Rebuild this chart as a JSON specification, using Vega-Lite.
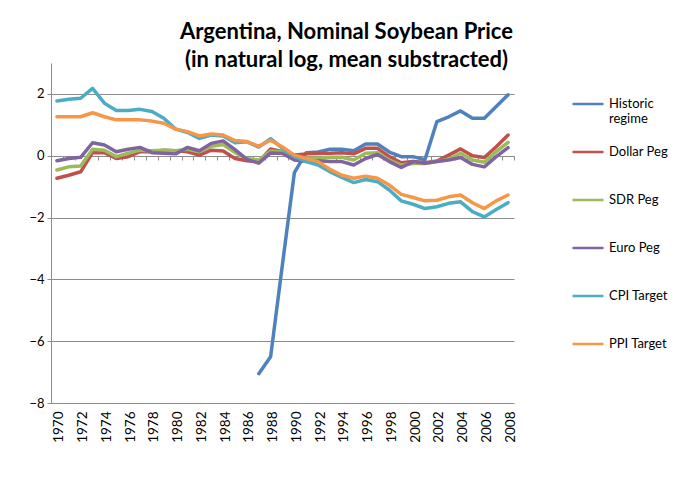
{
  "$schema": "https://vega.github.io/schema/vega-lite/v6.json",
  "width": 463,
  "height": 340,
  "autosize": "none",
  "padding": {"left": 51, "top": 63, "right": 170, "bottom": 86},
  "background": "white",
  "config": {"view": {"stroke": null}},
  "title": {
    "text": ["Argentina, Nominal Soybean Price", "(in natural log, mean substracted)"],
    "font": "Lato", "fontSize": 22, "fontWeight": "bold", "lineHeight": 28,
    "color": "black", "anchor": "middle", "dx": 64, "offset": -9
  },
  "data": {"values": [
    {"year":1987,"series":"Historic regime","value":-7.05},
    {"year":1988,"series":"Historic regime","value":-6.5},
    {"year":1989,"series":"Historic regime","value":-3.5},
    {"year":1990,"series":"Historic regime","value":-0.55},
    {"year":1991,"series":"Historic regime","value":0.1},
    {"year":1992,"series":"Historic regime","value":0.12},
    {"year":1993,"series":"Historic regime","value":0.21},
    {"year":1994,"series":"Historic regime","value":0.21},
    {"year":1995,"series":"Historic regime","value":0.16},
    {"year":1996,"series":"Historic regime","value":0.38},
    {"year":1997,"series":"Historic regime","value":0.38},
    {"year":1998,"series":"Historic regime","value":0.12},
    {"year":1999,"series":"Historic regime","value":-0.03},
    {"year":2000,"series":"Historic regime","value":-0.03},
    {"year":2001,"series":"Historic regime","value":-0.13},
    {"year":2002,"series":"Historic regime","value":1.1},
    {"year":2003,"series":"Historic regime","value":1.26},
    {"year":2004,"series":"Historic regime","value":1.45},
    {"year":2005,"series":"Historic regime","value":1.21},
    {"year":2006,"series":"Historic regime","value":1.21},
    {"year":2007,"series":"Historic regime","value":1.59},
    {"year":2008,"series":"Historic regime","value":1.97},

    {"year":1970,"series":"Dollar Peg","value":-0.73},
    {"year":1971,"series":"Dollar Peg","value":-0.63},
    {"year":1972,"series":"Dollar Peg","value":-0.52},
    {"year":1973,"series":"Dollar Peg","value":0.1},
    {"year":1974,"series":"Dollar Peg","value":0.1},
    {"year":1975,"series":"Dollar Peg","value":-0.09},
    {"year":1976,"series":"Dollar Peg","value":-0.03},
    {"year":1977,"series":"Dollar Peg","value":0.13},
    {"year":1978,"series":"Dollar Peg","value":0.13},
    {"year":1979,"series":"Dollar Peg","value":0.18},
    {"year":1980,"series":"Dollar Peg","value":0.16},
    {"year":1981,"series":"Dollar Peg","value":0.13},
    {"year":1982,"series":"Dollar Peg","value":0.02},
    {"year":1983,"series":"Dollar Peg","value":0.18},
    {"year":1984,"series":"Dollar Peg","value":0.15},
    {"year":1985,"series":"Dollar Peg","value":-0.09},
    {"year":1986,"series":"Dollar Peg","value":-0.16},
    {"year":1987,"series":"Dollar Peg","value":-0.19},
    {"year":1988,"series":"Dollar Peg","value":0.22},
    {"year":1989,"series":"Dollar Peg","value":0.13},
    {"year":1990,"series":"Dollar Peg","value":0.02},
    {"year":1991,"series":"Dollar Peg","value":0.06},
    {"year":1992,"series":"Dollar Peg","value":0.07},
    {"year":1993,"series":"Dollar Peg","value":0.08},
    {"year":1994,"series":"Dollar Peg","value":0.1},
    {"year":1995,"series":"Dollar Peg","value":0.06},
    {"year":1996,"series":"Dollar Peg","value":0.24},
    {"year":1997,"series":"Dollar Peg","value":0.24},
    {"year":1998,"series":"Dollar Peg","value":-0.03},
    {"year":1999,"series":"Dollar Peg","value":-0.23},
    {"year":2000,"series":"Dollar Peg","value":-0.19},
    {"year":2001,"series":"Dollar Peg","value":-0.23},
    {"year":2002,"series":"Dollar Peg","value":-0.17},
    {"year":2003,"series":"Dollar Peg","value":0.02},
    {"year":2004,"series":"Dollar Peg","value":0.22},
    {"year":2005,"series":"Dollar Peg","value":0.0},
    {"year":2006,"series":"Dollar Peg","value":-0.06},
    {"year":2007,"series":"Dollar Peg","value":0.29},
    {"year":2008,"series":"Dollar Peg","value":0.67},

    {"year":1970,"series":"SDR Peg","value":-0.46},
    {"year":1971,"series":"SDR Peg","value":-0.36},
    {"year":1972,"series":"SDR Peg","value":-0.33},
    {"year":1973,"series":"SDR Peg","value":0.21},
    {"year":1974,"series":"SDR Peg","value":0.18},
    {"year":1975,"series":"SDR Peg","value":-0.03},
    {"year":1976,"series":"SDR Peg","value":0.08},
    {"year":1977,"series":"SDR Peg","value":0.18},
    {"year":1978,"series":"SDR Peg","value":0.16},
    {"year":1979,"series":"SDR Peg","value":0.18},
    {"year":1980,"series":"SDR Peg","value":0.16},
    {"year":1981,"series":"SDR Peg","value":0.21},
    {"year":1982,"series":"SDR Peg","value":0.13},
    {"year":1983,"series":"SDR Peg","value":0.31},
    {"year":1984,"series":"SDR Peg","value":0.36},
    {"year":1985,"series":"SDR Peg","value":0.1},
    {"year":1986,"series":"SDR Peg","value":-0.09},
    {"year":1987,"series":"SDR Peg","value":-0.14},
    {"year":1988,"series":"SDR Peg","value":0.15},
    {"year":1989,"series":"SDR Peg","value":0.12},
    {"year":1990,"series":"SDR Peg","value":-0.01},
    {"year":1991,"series":"SDR Peg","value":-0.08},
    {"year":1992,"series":"SDR Peg","value":-0.08},
    {"year":1993,"series":"SDR Peg","value":-0.05},
    {"year":1994,"series":"SDR Peg","value":-0.05},
    {"year":1995,"series":"SDR Peg","value":-0.14},
    {"year":1996,"series":"SDR Peg","value":0.08},
    {"year":1997,"series":"SDR Peg","value":0.1},
    {"year":1998,"series":"SDR Peg","value":-0.14},
    {"year":1999,"series":"SDR Peg","value":-0.3},
    {"year":2000,"series":"SDR Peg","value":-0.25},
    {"year":2001,"series":"SDR Peg","value":-0.25},
    {"year":2002,"series":"SDR Peg","value":-0.19},
    {"year":2003,"series":"SDR Peg","value":-0.11},
    {"year":2004,"series":"SDR Peg","value":0.08},
    {"year":2005,"series":"SDR Peg","value":-0.14},
    {"year":2006,"series":"SDR Peg","value":-0.21},
    {"year":2007,"series":"SDR Peg","value":0.13},
    {"year":2008,"series":"SDR Peg","value":0.43},

    {"year":1970,"series":"Euro Peg","value":-0.16},
    {"year":1971,"series":"Euro Peg","value":-0.09},
    {"year":1972,"series":"Euro Peg","value":-0.05},
    {"year":1973,"series":"Euro Peg","value":0.42},
    {"year":1974,"series":"Euro Peg","value":0.35},
    {"year":1975,"series":"Euro Peg","value":0.13},
    {"year":1976,"series":"Euro Peg","value":0.21},
    {"year":1977,"series":"Euro Peg","value":0.27},
    {"year":1978,"series":"Euro Peg","value":0.1},
    {"year":1979,"series":"Euro Peg","value":0.08},
    {"year":1980,"series":"Euro Peg","value":0.06},
    {"year":1981,"series":"Euro Peg","value":0.27},
    {"year":1982,"series":"Euro Peg","value":0.16},
    {"year":1983,"series":"Euro Peg","value":0.4},
    {"year":1984,"series":"Euro Peg","value":0.48},
    {"year":1985,"series":"Euro Peg","value":0.2},
    {"year":1986,"series":"Euro Peg","value":-0.12},
    {"year":1987,"series":"Euro Peg","value":-0.24},
    {"year":1988,"series":"Euro Peg","value":0.09},
    {"year":1989,"series":"Euro Peg","value":0.07},
    {"year":1990,"series":"Euro Peg","value":-0.14},
    {"year":1991,"series":"Euro Peg","value":-0.19},
    {"year":1992,"series":"Euro Peg","value":-0.16},
    {"year":1993,"series":"Euro Peg","value":-0.19},
    {"year":1994,"series":"Euro Peg","value":-0.19},
    {"year":1995,"series":"Euro Peg","value":-0.3},
    {"year":1996,"series":"Euro Peg","value":-0.09},
    {"year":1997,"series":"Euro Peg","value":0.04},
    {"year":1998,"series":"Euro Peg","value":-0.19},
    {"year":1999,"series":"Euro Peg","value":-0.38},
    {"year":2000,"series":"Euro Peg","value":-0.19},
    {"year":2001,"series":"Euro Peg","value":-0.24},
    {"year":2002,"series":"Euro Peg","value":-0.19},
    {"year":2003,"series":"Euro Peg","value":-0.14},
    {"year":2004,"series":"Euro Peg","value":-0.06},
    {"year":2005,"series":"Euro Peg","value":-0.28},
    {"year":2006,"series":"Euro Peg","value":-0.36},
    {"year":2007,"series":"Euro Peg","value":-0.03},
    {"year":2008,"series":"Euro Peg","value":0.26},

    {"year":1970,"series":"CPI Target","value":1.77},
    {"year":1971,"series":"CPI Target","value":1.83},
    {"year":1972,"series":"CPI Target","value":1.86},
    {"year":1973,"series":"CPI Target","value":2.18},
    {"year":1974,"series":"CPI Target","value":1.7},
    {"year":1975,"series":"CPI Target","value":1.46},
    {"year":1976,"series":"CPI Target","value":1.46},
    {"year":1977,"series":"CPI Target","value":1.5},
    {"year":1978,"series":"CPI Target","value":1.43},
    {"year":1979,"series":"CPI Target","value":1.21},
    {"year":1980,"series":"CPI Target","value":0.86},
    {"year":1981,"series":"CPI Target","value":0.75},
    {"year":1982,"series":"CPI Target","value":0.56},
    {"year":1983,"series":"CPI Target","value":0.67},
    {"year":1984,"series":"CPI Target","value":0.64},
    {"year":1985,"series":"CPI Target","value":0.42},
    {"year":1986,"series":"CPI Target","value":0.45},
    {"year":1987,"series":"CPI Target","value":0.28},
    {"year":1988,"series":"CPI Target","value":0.55},
    {"year":1989,"series":"CPI Target","value":0.24},
    {"year":1990,"series":"CPI Target","value":-0.03},
    {"year":1991,"series":"CPI Target","value":-0.19},
    {"year":1992,"series":"CPI Target","value":-0.3},
    {"year":1993,"series":"CPI Target","value":-0.52},
    {"year":1994,"series":"CPI Target","value":-0.7},
    {"year":1995,"series":"CPI Target","value":-0.87},
    {"year":1996,"series":"CPI Target","value":-0.77},
    {"year":1997,"series":"CPI Target","value":-0.84},
    {"year":1998,"series":"CPI Target","value":-1.11},
    {"year":1999,"series":"CPI Target","value":-1.46},
    {"year":2000,"series":"CPI Target","value":-1.57},
    {"year":2001,"series":"CPI Target","value":-1.71},
    {"year":2002,"series":"CPI Target","value":-1.65},
    {"year":2003,"series":"CPI Target","value":-1.54},
    {"year":2004,"series":"CPI Target","value":-1.49},
    {"year":2005,"series":"CPI Target","value":-1.81},
    {"year":2006,"series":"CPI Target","value":-1.98},
    {"year":2007,"series":"CPI Target","value":-1.74},
    {"year":2008,"series":"CPI Target","value":-1.52},

    {"year":1970,"series":"PPI Target","value":1.26},
    {"year":1971,"series":"PPI Target","value":1.26},
    {"year":1972,"series":"PPI Target","value":1.26},
    {"year":1973,"series":"PPI Target","value":1.39},
    {"year":1974,"series":"PPI Target","value":1.26},
    {"year":1975,"series":"PPI Target","value":1.16},
    {"year":1976,"series":"PPI Target","value":1.16},
    {"year":1977,"series":"PPI Target","value":1.16},
    {"year":1978,"series":"PPI Target","value":1.12},
    {"year":1979,"series":"PPI Target","value":1.05},
    {"year":1980,"series":"PPI Target","value":0.86},
    {"year":1981,"series":"PPI Target","value":0.78},
    {"year":1982,"series":"PPI Target","value":0.64},
    {"year":1983,"series":"PPI Target","value":0.7},
    {"year":1984,"series":"PPI Target","value":0.67},
    {"year":1985,"series":"PPI Target","value":0.49},
    {"year":1986,"series":"PPI Target","value":0.46},
    {"year":1987,"series":"PPI Target","value":0.31},
    {"year":1988,"series":"PPI Target","value":0.5},
    {"year":1989,"series":"PPI Target","value":0.28},
    {"year":1990,"series":"PPI Target","value":0.02},
    {"year":1991,"series":"PPI Target","value":-0.09},
    {"year":1992,"series":"PPI Target","value":-0.19},
    {"year":1993,"series":"PPI Target","value":-0.44},
    {"year":1994,"series":"PPI Target","value":-0.63},
    {"year":1995,"series":"PPI Target","value":-0.73},
    {"year":1996,"series":"PPI Target","value":-0.66},
    {"year":1997,"series":"PPI Target","value":-0.73},
    {"year":1998,"series":"PPI Target","value":-0.95},
    {"year":1999,"series":"PPI Target","value":-1.25},
    {"year":2000,"series":"PPI Target","value":-1.35},
    {"year":2001,"series":"PPI Target","value":-1.46},
    {"year":2002,"series":"PPI Target","value":-1.44},
    {"year":2003,"series":"PPI Target","value":-1.33},
    {"year":2004,"series":"PPI Target","value":-1.27},
    {"year":2005,"series":"PPI Target","value":-1.52},
    {"year":2006,"series":"PPI Target","value":-1.71},
    {"year":2007,"series":"PPI Target","value":-1.46},
    {"year":2008,"series":"PPI Target","value":-1.27}
  ]},
  "mark": {"type": "line", "strokeWidth": 3.5, "strokeJoin": "round", "strokeCap": "round"},
  "encoding": {
    "x": {
      "field": "year", "type": "ordinal",
      "scale": {"type": "band", "paddingInner": 0, "paddingOuter": 0},
      "bandPosition": 0.5,
      "axis": {
        "title": null, "offset": -247, "tickBand": "extent", "tickSize": 4,
        "tickColor": "#8c8c8c", "domainColor": "#8c8c8c", "grid": false,
        "labelAngle": -90, "labelPadding": 251, "labelOverlap": false, "labelOffset": 2,
        "labelExpr": "datum.value % 2 == 0 ? datum.label : ''",
        "labelFont": "Lato", "labelFontSize": 13.5, "labelColor": "black"
      }
    },
    "y": {
      "field": "value", "type": "quantitative",
      "scale": {"domain": [-8, 3], "nice": false, "zero": false},
      "axis": {
        "title": null, "values": [-8, -6, -4, -2, 0, 2], "grid": true,
        "gridColor": "#8c8c8c", "domainColor": "#8c8c8c", "tickColor": "#8c8c8c",
        "tickSize": 4, "labelPadding": 3,
        "labelFont": "Lato", "labelFontSize": 13, "labelColor": "black"
      }
    },
    "color": {
      "field": "series", "type": "nominal",
      "scale": {
        "domain": ["Historic regime", "Dollar Peg", "SDR Peg", "Euro Peg", "CPI Target", "PPI Target"],
        "range": ["#4F81BD", "#C0504D", "#9BBB59", "#8064A2", "#4BACC6", "#F79646"]
      },
      "legend": {
        "title": null, "orient": "none", "legendX": 520, "legendY": 24, "padding": 0,
        "gridAlign": "all",
        "symbolType": "stroke", "symbolSize": 961, "symbolStrokeWidth": 2.5,
        "labelFont": "Lato", "labelFontSize": 13, "labelColor": "black",
        "labelOffset": 4, "rowPadding": 9,
        "labelExpr": "datum.label == 'Historic regime' ? ['Historic', 'regime'] : datum.label"
      }
    }
  }
}
